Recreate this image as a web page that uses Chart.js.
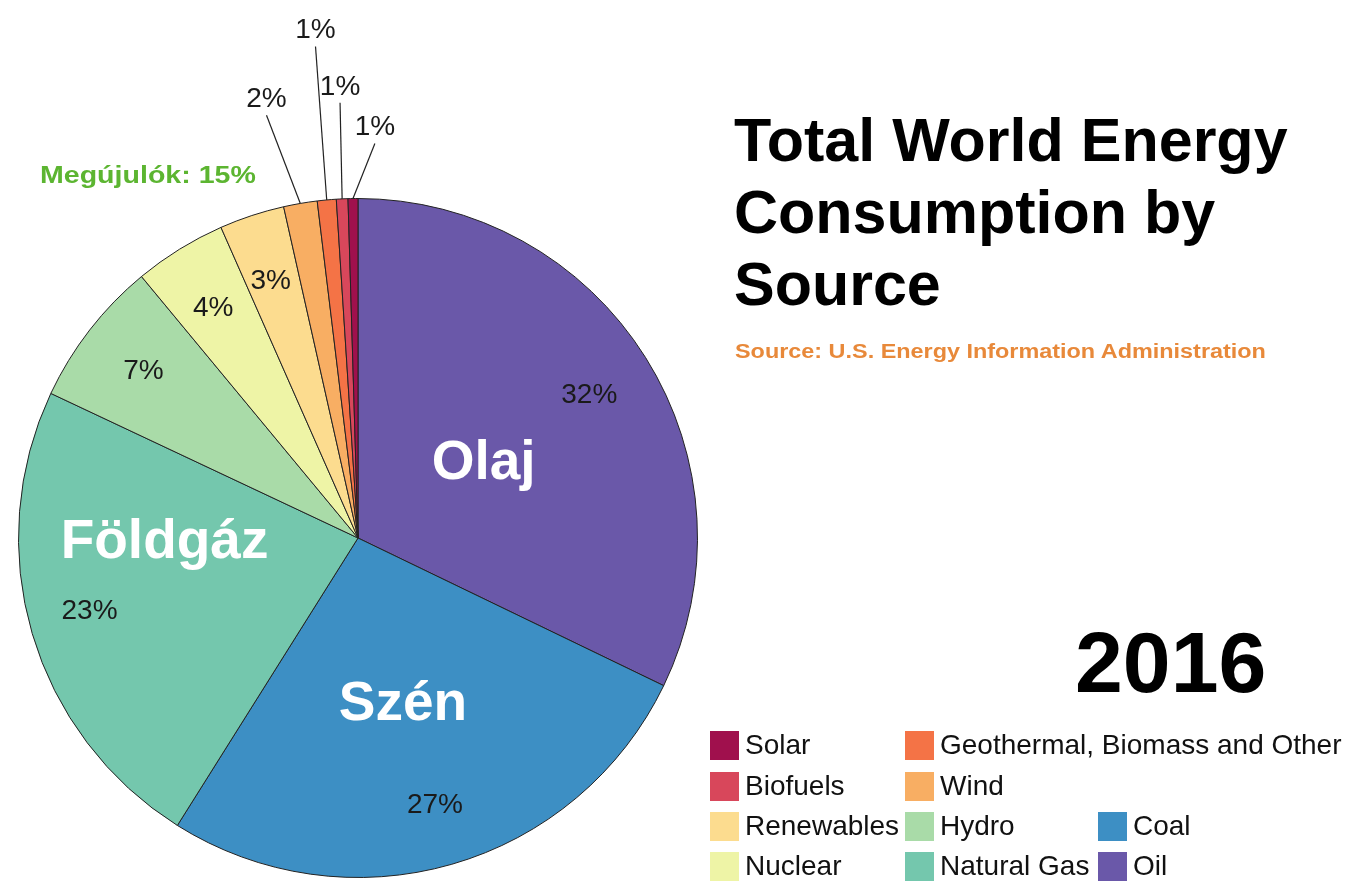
<!DOCTYPE html>
<html>
<head>
<meta charset="utf-8">
<script src="https://cdn.jsdelivr.net/npm/chart.js@4.4.1/dist/chart.umd.min.js"></script>
<style>
  body { margin: 0; background: #fff; font-family: "Liberation Sans", Arial, sans-serif; }
  #wrap { position: relative; width: 1357px; height: 883px; overflow: hidden; }
  #chart { position: absolute; left: 0; top: 0; }
  .title { position: absolute; left: 734px; top: 104px; font-weight: bold; font-size: 61px; line-height: 72px; color: #000; }
  .source { position: absolute; left: 735px; top: 340px; font-weight: bold; font-size: 20px; color: #e8893a;
            transform: scaleX(1.17); transform-origin: left center; white-space: nowrap; }
  .year { position: absolute; left: 1075px; top: 613px; font-weight: bold; font-size: 86px; color: #000; }
  .renew { position: absolute; left: 40px; top: 161px; font-weight: bold; font-size: 24px; color: #5cb531;
           transform: scaleX(1.19); transform-origin: left center; white-space: nowrap; }
  .legend-item { position: absolute; height: 30px; display: flex; align-items: center; font-size: 28px; color: #111; white-space: nowrap; }
  .legend-item span.box { display: inline-block; width: 29px; height: 29px; margin-right: 6px; }
</style>
</head>
<body>
<div id="wrap">
  <canvas id="chart" width="1357" height="883"></canvas>
  <div class="title">Total World Energy<br>Consumption by<br>Source</div>
  <div class="source">Source: U.S. Energy Information Administration</div>
  <div class="year">2016</div>
  <div class="renew">Megújulók: 15%</div>
  <div id="legend"></div>
</div>
<script>
// slices, clockwise from 12 o'clock
const sources = ['Oil', 'Coal', 'Natural Gas', 'Hydro', 'Nuclear', 'Renewables', 'Wind',
                 'Geothermal, Biomass and Other', 'Biofuels', 'Solar'];
const shares = [32.2, 26.8, 23.1, 7.0, 4.4, 3.1, 1.6, 0.9, 0.55, 0.47];
const shareLabels = ['32%', '27%', '23%', '7%', '4%', '3%', '2%', '1%', '1%', '1%'];
const localNames = ['Olaj', 'Szén', 'Földgáz', '', '', '', '', '', '', ''];

const colors = ['#6a58a9', '#3d8fc4', '#74c7ad', '#a9dba8', '#eef4a6',
                '#fcdc8f', '#f8ae63', '#f47346', '#d8475b', '#a0104d'];

// label placement: r = fraction of radius, off = degrees from slice middle
const pctPos = [
  { r: 0.80, off: 0.5 }, { r: 0.82, off: 0 }, { r: 0.82, off: 1 },
  { r: 0.80, off: 0 }, { r: 0.80, off: -0.5 }, { r: 0.80, off: -0.5 },
  { r: 1.32, off: -2, line: true }, { r: 1.50, off: 0.5, line: true },
  { r: 1.33, off: 0.4, line: true }, { r: 1.21, off: 3.2, line: true }
];
const namePos = [{ r: 0.43, off: 1.5 }, { r: 0.51, off: 1 }, { r: 0.57, off: 15 }];

// legend grid (column, row)
const legendCells = {
  'Solar': [0, 0], 'Biofuels': [0, 1], 'Renewables': [0, 2], 'Nuclear': [0, 3],
  'Geothermal, Biomass and Other': [1, 0], 'Wind': [1, 1], 'Hydro': [1, 2], 'Natural Gas': [1, 3],
  'Coal': [2, 2], 'Oil': [2, 3]
};
const legendX = [710, 905, 1098];
const legendY = [730, 771, 811, 851];

const legendEl = document.getElementById('legend');
sources.forEach((name, i) => {
  const cell = legendCells[name];
  const item = document.createElement('div');
  item.className = 'legend-item';
  item.style.left = legendX[cell[0]] + 'px';
  item.style.top = legendY[cell[1]] + 'px';
  item.innerHTML = '<span class="box" style="background:' + colors[i] + '"></span>' + name;
  legendEl.appendChild(item);
});

const sliceLabels = {
  id: 'sliceLabels',
  afterDatasetsDraw(chart) {
    const ctx = chart.ctx;
    const arcs = chart.getDatasetMeta(0).data;
    ctx.save();
    ctx.textAlign = 'center';
    ctx.textBaseline = 'middle';
    arcs.forEach((arc, i) => {
      const mid = (arc.startAngle + arc.endAngle) / 2;
      const R = arc.outerRadius;
      const p = pctPos[i];
      const a = mid + p.off * Math.PI / 180;
      const lx = arc.x + Math.cos(a) * R * p.r;
      const ly = arc.y + Math.sin(a) * R * p.r;
      if (p.line) {
        ctx.strokeStyle = '#222';
        ctx.lineWidth = 1.2;
        ctx.beginPath();
        ctx.moveTo(arc.x + Math.cos(mid) * R, arc.y + Math.sin(mid) * R);
        ctx.lineTo(lx, ly + 16);
        ctx.stroke();
      }
      ctx.fillStyle = '#1a1a1a';
      ctx.font = '28px "Liberation Sans", Arial, sans-serif';
      ctx.fillText(shareLabels[i], lx, ly);

      if (localNames[i]) {
        const n = namePos[i];
        const b = mid + n.off * Math.PI / 180;
        ctx.fillStyle = '#fff';
        ctx.font = 'bold 55px "Liberation Sans", Arial, sans-serif';
        ctx.fillText(localNames[i], arc.x + Math.cos(b) * R * n.r, arc.y + Math.sin(b) * R * n.r);
      }
    });
    ctx.restore();
  }
};

new Chart(document.getElementById('chart'), {
  type: 'pie',
  data: {
    labels: sources,
    datasets: [{
      data: shares,
      backgroundColor: colors,
      borderColor: '#222',
      borderWidth: 1
    }]
  },
  options: {
    responsive: false,
    animation: false,
    layout: { padding: { left: 18, top: 198, right: 659, bottom: 5 } },
    plugins: {
      legend: { display: false },
      tooltip: { enabled: false }
    }
  },
  plugins: [sliceLabels]
});
</script>
</body>
</html>
